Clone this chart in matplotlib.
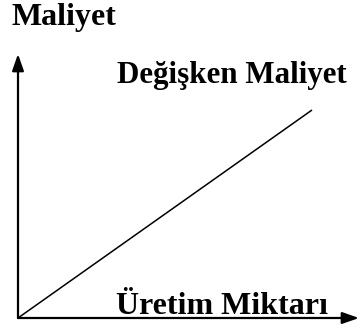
import matplotlib
matplotlib.use("Agg")
from matplotlib import pyplot as plt

# diagram data: variable cost grows linearly with production quantity
quantity = [0, 294]
cost = [0, 208]
xLabel = "Üretim Miktarı"
yLabel = "Maliyet"
lineLabel = "Değişken Maliyet"

plt.rcParams['font.family'] = ['Liberation Serif', 'DejaVu Serif']

fig = plt.figure(figsize=(3.6, 3.3), dpi=100)
ax = fig.add_axes([18/360, 12/330, 342/360, 318/330])
ax.set_xlim(0, 342)
ax.set_ylim(0, 318)
ax.axis('off')

ax.plot(quantity, cost, color='black', lw=1.1, solid_capstyle='butt')

arrow = dict(arrowstyle='-|>,head_length=1.0,head_width=0.35', color='black', lw=1.6, shrinkA=0, shrinkB=0)
ax.annotate('', xy=(0, 264), xytext=(0, 0), arrowprops=arrow, annotation_clip=False)
ax.annotate('', xy=(341, 0), xytext=(0, 0), arrowprops=arrow, annotation_clip=False)

fig.text(12/360, 1 - 18/330, yLabel, fontsize=23, fontweight='bold', va='center', ha='left')
fig.text(117/360, 1 - 76/330, lineLabel, fontsize=22.3, fontweight='bold', va='center', ha='left')
fig.text(116/360, 1 - 306/330, xLabel, fontsize=23, fontweight='bold', va='center', ha='left')

fig.savefig('out.png', dpi=100)
